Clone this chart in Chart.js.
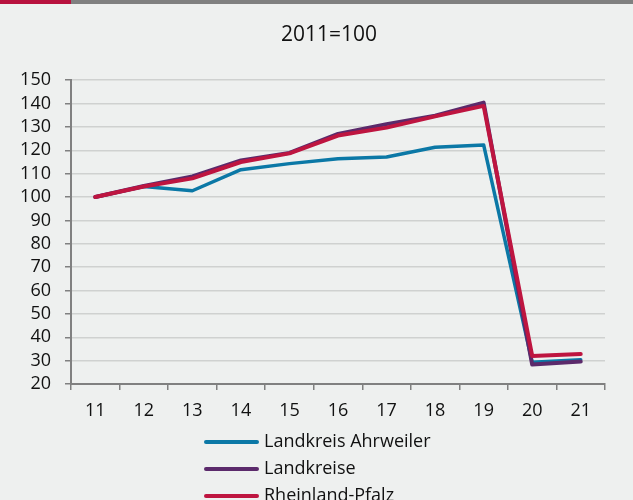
<!DOCTYPE html>
<html lang="de">
  <head>
    <meta charset="UTF-8" />
    <title>2011=100</title>
    <script src="https://cdn.jsdelivr.net/npm/chart.js"></script>
    <style>
      body {
        margin: 0;
        background: #eef0ef;
      }
      .wrap {
        position: relative;
        width: 633px;
        height: 500px;
      }
      .bar {
        position: absolute;
        top: 0;
        left: 0;
        width: 633px;
        height: 4px;
        background: #808080;
      }
      .bar span {
        display: block;
        width: 71px;
        height: 4px;
        background: #b8123e;
      }
    </style>
  </head>
  <body>
    <div class="wrap">
      <canvas id="myChart" width="633" height="500"></canvas>
      <div class="bar"><span></span></div>
    </div>
    <script>
      let years = ["11", "12", "13", "14", "15", "16", "17", "18", "19", "20", "21"];
      let ahrweiler = [100, 104.5, 102.7, 111.7, 114.3, 116.4, 117.1, 121.3, 122.3, 29.3, 30.4];
      let landkreise = [100, 104.7, 108.8, 115.7, 118.9, 127.0, 131.2, 134.8, 140.4, 28.3, 29.6];
      let rlp = [100, 104.5, 108.0, 115.0, 118.7, 126.3, 129.7, 134.5, 139.0, 32.0, 32.8];

      const font = "'Open Sans', 'Noto Sans', sans-serif";

      // legend stacked one item per row, drawn below the axis
      const stackedLegend = {
        id: "stackedLegend",
        afterLayout(chart) {
          // heading sits a bit left of the plot centre
          chart.titleBlock.left = chart.chartArea.left - 18;
        },
        afterDraw(chart) {
          const ctx = chart.ctx;
          const area = chart.chartArea;
          const x0 = area.left + 133;
          let y = area.bottom + 58;
          ctx.save();
          ctx.font = "18px " + font;
          ctx.textBaseline = "middle";
          chart.data.datasets.forEach((ds) => {
            ctx.strokeStyle = ds.borderColor;
            ctx.lineWidth = 4;
            ctx.lineCap = "round";
            ctx.beginPath();
            ctx.moveTo(x0 + 2, y);
            ctx.lineTo(x0 + 53, y);
            ctx.stroke();
            ctx.fillStyle = "#111";
            ctx.fillText(ds.label, x0 + 60, y);
            y += 27;
          });
          ctx.restore();
        },
      };

      new Chart(document.getElementById("myChart"), {
        type: "line",
        data: {
          labels: years,
          datasets: [
            {
              label: "Landkreis Ahrweiler",
              data: ahrweiler,
              borderColor: "#0b78a6",
              borderWidth: 3.5,
              order: 3,
            },
            {
              label: "Landkreise",
              data: landkreise,
              borderColor: "#5b2a6b",
              borderWidth: 4,
              order: 2,
            },
            {
              label: "Rheinland-Pfalz",
              data: rlp,
              borderColor: "#be1540",
              borderWidth: 4,
              order: 1,
            },
          ],
        },
        options: {
          responsive: false,
          animation: false,
          layout: { padding: { left: 0, right: 28, top: 0, bottom: 0 } },
          elements: {
            point: { radius: 0 },
            line: { tension: 0, borderCapStyle: "round", borderJoinStyle: "round" },
          },
          plugins: {
            legend: { display: false },
            tooltip: { enabled: false },
            title: {
              display: true,
              text: "2011=100",
              color: "#111",
              font: { family: font, size: 21, weight: "normal" },
              padding: { top: 22, bottom: 33 },
            },
          },
          scales: {
            x: {
              offset: true,
              afterFit: (s) => { s.height = 116; },
              border: { color: "#808080", width: 2 },
              grid: {
                offset: true,
                drawOnChartArea: true,
                tickLength: 6,
                tickColor: "#808080",
                color: (c) => (c.index === years.length ? "#cfd1d0" : "rgba(0,0,0,0)"),
                lineWidth: 1.5,
              },
              ticks: {
                color: "#111",
                padding: 10,
                font: { family: font, size: 18 },
                maxRotation: 0,
                autoSkip: false,
              },
            },
            y: {
              min: 20,
              max: 150,
              afterFit: (s) => { s.width = 71; },
              border: { color: "#808080", width: 2 },
              grid: {
                color: "#cfd1d0",
                lineWidth: 1.5,
                tickLength: 6,
                tickColor: "#808080",
              },
              ticks: {
                stepSize: 10,
                autoSkip: false,
                color: "#111",
                padding: 14,
                font: { family: font, size: 18 },
              },
            },
          },
        },
        plugins: [stackedLegend],
      });
    </script>
  </body>
</html>
